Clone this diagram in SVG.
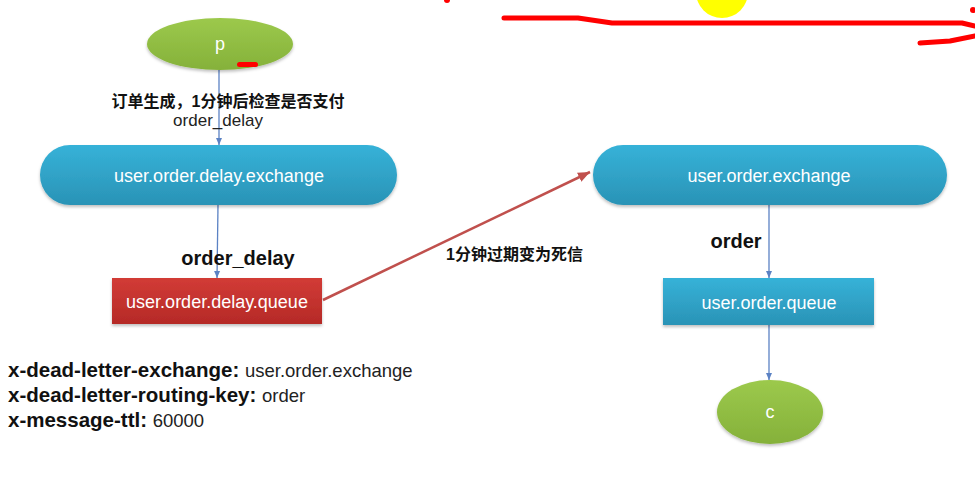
<svg xmlns="http://www.w3.org/2000/svg" width="975" height="487" viewBox="0 0 975 487">
<style>
.nt{font-family:"Liberation Sans",Arial,sans-serif;font-size:18px;fill:#fff;text-anchor:middle}
.lb{font-family:"Liberation Sans",Arial,sans-serif;font-weight:bold;fill:#111}
.cn{font-family:"Liberation Sans","Noto Sans CJK SC",sans-serif;font-weight:bold;font-size:16px;fill:#111}
.rg{font-family:"Liberation Sans",Arial,sans-serif;font-weight:normal;fill:#222}
.bl{stroke:#5b82c4;stroke-width:1.3;fill:none}
</style>
<defs>
<linearGradient id="gG" x1="0" y1="0" x2="0" y2="1"><stop offset="0" stop-color="#9cc94c"/><stop offset="1" stop-color="#85b13a"/></linearGradient>
<linearGradient id="gB" x1="0" y1="0" x2="0" y2="1"><stop offset="0" stop-color="#36b2d8"/><stop offset="1" stop-color="#2a93b6"/></linearGradient>
<linearGradient id="gR" x1="0" y1="0" x2="0" y2="1"><stop offset="0" stop-color="#d23b36"/><stop offset="1" stop-color="#b52a27"/></linearGradient>
<filter id="sh" x="-10%" y="-10%" width="120%" height="130%"><feDropShadow dx="0" dy="2" stdDeviation="1.5" flood-color="#000" flood-opacity="0.25"/></filter>
<marker id="ab" markerWidth="8" markerHeight="8" refX="7" refY="4" orient="auto" markerUnits="userSpaceOnUse"><path d="M0,1 L7,4 L0,7 z" fill="#5b82c4"/></marker>
<marker id="ar" markerWidth="14" markerHeight="12" refX="12" refY="6" orient="auto" markerUnits="userSpaceOnUse"><path d="M0,1 L12,6 L0,11 z" fill="#c0504d"/></marker>
</defs>
<rect width="975" height="487" fill="#fff"/>

<g id="annotations">
<circle cx="722" cy="-8" r="26" fill="#ffff00"/>
<polyline points="504,18 578,18 612,23 962,23 975,26" fill="none" stroke="#ff0000" stroke-width="5" stroke-linecap="round" stroke-linejoin="round"/>
<polyline points="920,43 950,41 975,36" fill="none" stroke="#ff0000" stroke-width="5" stroke-linecap="round" stroke-linejoin="round"/>
<circle cx="447" cy="0" r="3" fill="#ff0000"/>
<circle cx="973" cy="10" r="3" fill="#ff0000"/>
</g>

<g id="connectors">
<line class="bl" x1="219" y1="70" x2="219" y2="145" marker-end="url(#ab)"/>
<line class="bl" x1="218" y1="205" x2="217" y2="278" marker-end="url(#ab)"/>
<line x1="323" y1="300" x2="590" y2="172" stroke="#c0504d" stroke-width="2.5" marker-end="url(#ar)"/>
<line class="bl" x1="769" y1="205" x2="769" y2="278" marker-end="url(#ab)"/>
<line class="bl" x1="769" y1="325" x2="769" y2="380" marker-end="url(#ab)"/>
<text class="cn" x="228" y="107" text-anchor="middle">订单生成，1分钟后检查是否支付</text>
<text class="rg" x="218" y="126" font-size="17" text-anchor="middle">order_delay</text>
<text class="lb" x="238" y="265" font-size="20" text-anchor="middle">order_delay</text>
<text class="cn" x="446" y="260">1分钟过期变为死信</text>
<text class="lb" x="736" y="248" font-size="20" text-anchor="middle">order</text>
</g>

<g id="node-p">
<ellipse cx="220" cy="44" rx="73" ry="26" fill="url(#gG)" filter="url(#sh)"/>
<text class="nt" x="220" y="50" font-size="16">p</text>
<rect x="237" y="62" width="21" height="5" rx="2.5" fill="#ff0000"/>
</g>

<g id="node-delay-exchange">
<rect x="40" y="145" width="357" height="60" rx="30" fill="url(#gB)" filter="url(#sh)"/>
<text class="nt" x="219" y="182" font-size="18.3">user.order.delay.exchange</text>
</g>

<g id="node-delay-queue">
<rect x="112" y="278" width="210" height="46" fill="url(#gR)" filter="url(#sh)"/>
<text class="nt" x="217" y="308">user.order.delay.queue</text>
</g>

<g id="node-exchange">
<rect x="593" y="145" width="354" height="60" rx="30" fill="url(#gB)" filter="url(#sh)"/>
<text class="nt" x="769" y="182" font-size="18.3">user.order.exchange</text>
</g>

<g id="node-queue">
<rect x="663" y="278" width="211" height="47" fill="url(#gB)" filter="url(#sh)"/>
<text class="nt" x="769" y="309">user.order.queue</text>
</g>

<g id="node-c">
<ellipse cx="770" cy="412" rx="53" ry="32" fill="url(#gG)" filter="url(#sh)"/>
<text class="nt" x="770" y="418" font-size="16">c</text>
</g>

<g id="args">
<text class="lb" x="8" y="377" font-size="20.5">x-dead-letter-exchange: <tspan class="rg" font-size="18.5">user.order.exchange</tspan></text>
<text class="lb" x="8" y="402" font-size="20.5">x-dead-letter-routing-key: <tspan class="rg" font-size="18.5">order</tspan></text>
<text class="lb" x="8" y="427" font-size="20.5">x-message-ttl: <tspan class="rg" font-size="18.5">60000</tspan></text>
</g>
</svg>
